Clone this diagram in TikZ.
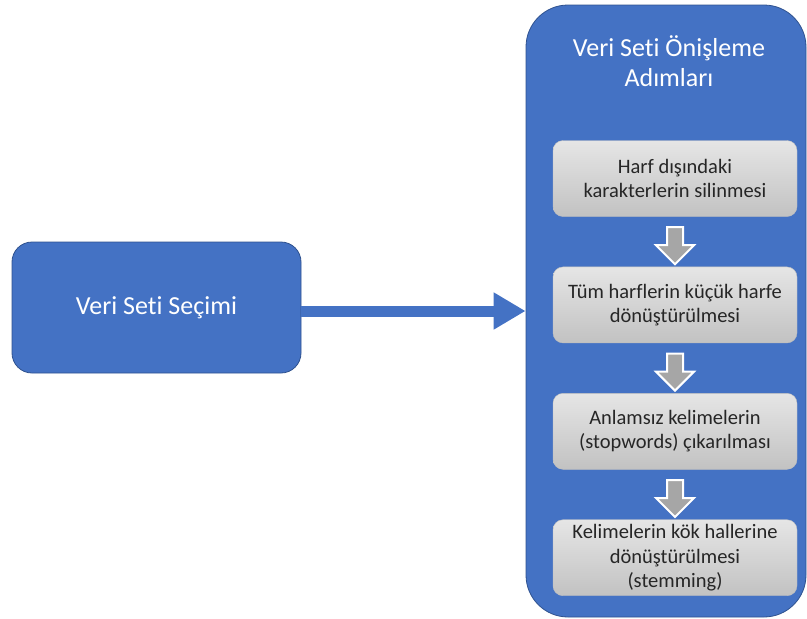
\documentclass[tikz,border=0pt]{standalone}
\usepackage{fontspec}
\setmainfont[Ligatures=NoCommon]{Carlito}
\usetikzlibrary{shapes.arrows, arrows.meta, positioning}
\definecolor{ofismavi}{HTML}{4472C4}
\definecolor{koyumavi}{HTML}{2F528F}
\definecolor{kenargri}{HTML}{BFBFBF}

\begin{document}
\begin{tikzpicture}[
            x=1pt, y=1pt,
            node distance=50pt,
            kutu_mavi/.style={
                draw=koyumavi, line width=0.8pt, rectangle, rounded corners=20pt, fill=ofismavi,
                text=white, minimum width=289pt, minimum height=131pt, align=center,
                font=\fontsize{26}{31}\selectfont
            },
            kutu_kap/.style={
                draw=koyumavi, line width=0.8pt, rectangle, rounded corners=42pt, fill=ofismavi,
                minimum width=280pt, minimum height=612pt
            },
            baslik/.style={text=white, align=center, font=\fontsize{26}{30}\selectfont},
            kutu_gri/.style={
                draw=kenargri, rectangle, rounded corners=10pt, top color=gray!20, bottom color=gray!48,
                text=black!85, minimum width=244pt, minimum height=76pt, align=center,
                font=\fontsize{20.5}{24.5}\selectfont
            },
            ok/.style={draw=ofismavi, line width=11pt, -{Triangle[length=32pt, width=35pt]}},
            ok_blok/.style={
                single arrow, rotate=-90, draw=white, line width=2pt, fill=gray!70,
                minimum height=37pt, single arrow head extend=11pt,
                inner xsep=0pt, inner ysep=7pt
            }
        ]
            \useasboundingbox (0,0) rectangle (807,-619);

            % Sol kutu
            \node[kutu_mavi] (secim) at (156.5,-307.5) {Veri Seti Seçimi};

            % --- Önişleme kapsayıcısı ---
            \node[kutu_kap] (kap) at (666,-311) {};
            \node[baslik] (baslik) at ([xshift=3pt, yshift=-57pt]kap.north) {Veri Seti Önişleme\\Adımları};

            % Adımlar
            \node[kutu_gri] (k1) at (675,-178.5) {Harf dışındaki\\karakterlerin silinmesi};
            \node[kutu_gri, below=of k1] (k2) {Tüm harflerin küçük harfe\\dönüştürülmesi};
            \node[kutu_gri, below=of k2] (k3) {Anlamsız kelimelerin\\(stopwords) çıkarılması};
            \node[kutu_gri, below=of k3] (k4) {Kelimelerin kök hallerine\\dönüştürülmesi\\(stemming)};

            % Blok oklar
            \path (k1) -- node[ok_blok] {} (k2);
            \path (k2) -- node[ok_blok] {} (k3);
            \path (k3) -- node[ok_blok] {} (k4);

            % Ana ok
            \draw[ok] (secim.east |- kap.west) -- (kap.west);

        \end{tikzpicture}
\end{document}
